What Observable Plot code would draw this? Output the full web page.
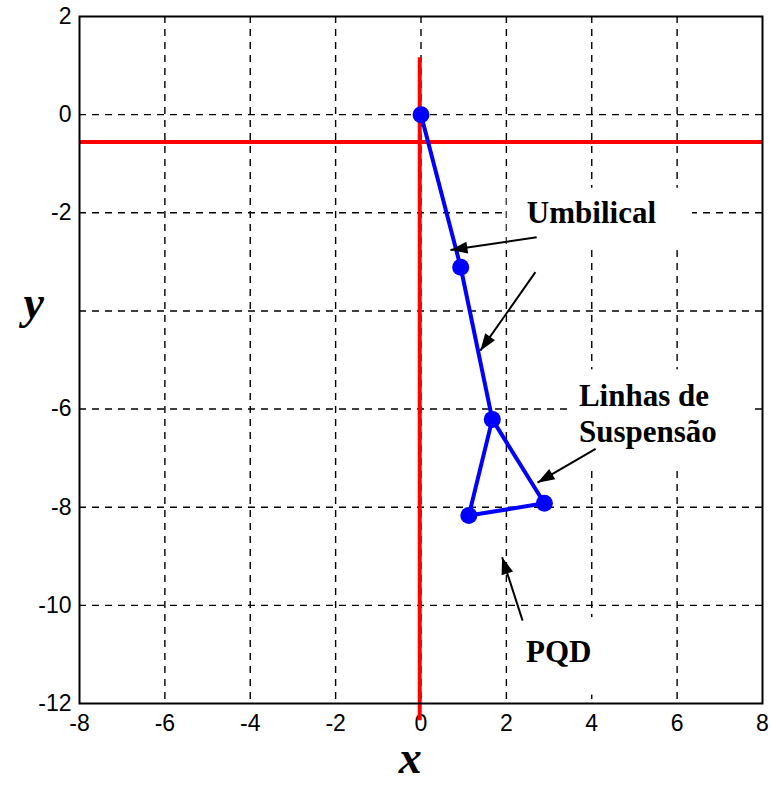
<!DOCTYPE html>
<html>
<head>
<meta charset="utf-8">
<script src="https://cdn.jsdelivr.net/npm/d3@7"></script>
<script src="https://cdn.jsdelivr.net/npm/@observablehq/plot@0.6"></script>
<style>
  html, body { margin: 0; padding: 0; background: #fff; }
  #chart { width: 771px; height: 801px; }
</style>
</head>
<body>
<div id="chart"></div>
<script>
// Axis ticks and labels (the -4 label is left blank beside the "y" title)
const xTicks = [-8, -6, -4, -2, 0, 2, 4, 6, 8];
const xTickLabels = ["-8", "-6", "-4", "-2", "0", "2", "4", "6", "8"];
const yTicks = [2, 0, -2, -4, -6, -8, -10, -12];
const yTickLabels = ["2", "0", "-2", "", "-6", "-8", "-10", "-12"];

// Interior dashed grid lines
const gridX = [-6, -4, -2, 0, 2, 4, 6];
const gridY = [0, -2, -4, -6, -8, -10];

// Reference axes (red)
const refLineX = -0.03;
const refLineXTop = 1.16;
const refLineXBottom = -12.35;
const refLineY = -0.56;

// Nodes of the umbilical + suspension lines + PQD
const nodeX = [0, 0.93, 1.67, 2.89, 1.12];
const nodeY = [0, -3.11, -6.21, -7.92, -8.17];
// Order in which the nodes are joined
const pathOrder = [0, 1, 2, 3, 4, 2];

// Annotation arrows (tail -> head)
const arrowX1 = [2.71, 2.68, 4.09, 2.38];
const arrowY1 = [-2.50, -3.21, -6.81, -10.31];
const arrowX2 = [0.69, 1.39, 2.73, 1.90];
const arrowY2 = [-2.76, -4.81, -7.50, -9.02];

// Annotation texts
const labelText = ["Umbilical", "Linhas de", "Suspensão", "PQD"];
const labelX = [2.48, 3.70, 3.70, 2.46];
const labelY = [-2.20, -5.93, -6.68, -11.16];

// White backgrounds behind the annotation texts
const boxX1 = [2.02, 3.52, 2.04];
const boxX2 = [6.36, 7.77, 4.21];
const boxY1 = [-1.5, -5.2, -10.25];
const boxY2 = [-2.77, -7.27, -11.83];

const pathPoints = pathOrder.map(i => ({x: nodeX[i], y: nodeY[i]}));
const nodes = nodeX.map((x, i) => ({x, y: nodeY[i]}));
const arrows = arrowX1.map((x1, i) => ({x1, y1: arrowY1[i], x2: arrowX2[i], y2: arrowY2[i]}));
const labels = labelText.map((t, i) => ({t, x: labelX[i], y: labelY[i]}));
const boxes = boxX1.map((x1, i) => ({x1, x2: boxX2[i], y1: boxY1[i], y2: boxY2[i]}));

const serif = "'Liberation Serif', 'Times New Roman', serif";

const svg = Plot.plot({
  width: 771,
  height: 801,
  marginLeft: 79,
  marginRight: 9,
  marginTop: 16,
  marginBottom: 98,
  style: {
    fontFamily: "'Liberation Sans', Arial, sans-serif",
    fontSize: "23px",
    color: "black",
    background: "white",
    overflow: "visible"
  },
  x: {
    domain: [-8, 8],
    ticks: xTicks,
    tickFormat: d => xTickLabels[xTicks.indexOf(d)],
    tickSize: 0,
    tickPadding: 11,
    label: null
  },
  y: {
    domain: [-12, 2],
    ticks: yTicks,
    tickFormat: d => yTickLabels[yTicks.indexOf(d)],
    tickSize: 0,
    tickPadding: 8,
    label: null
  },
  marks: [
    Plot.ruleX(gridX, {stroke: "black", strokeWidth: 1.4, strokeDasharray: "7,6"}),
    Plot.ruleY(gridY, {stroke: "black", strokeWidth: 1.4, strokeDasharray: "7,6"}),
    Plot.rect(boxes, {x1: "x1", x2: "x2", y1: "y1", y2: "y2", fill: "white"}),
    Plot.ruleY([refLineY], {x1: -8, x2: 8, stroke: "#ff0000", strokeWidth: 4}),
    Plot.ruleX([refLineX], {y1: refLineXTop, y2: refLineXBottom, stroke: "#ff0000", strokeWidth: 4}),
    Plot.line(pathPoints, {x: "x", y: "y", stroke: "#0000ff", strokeWidth: 4, strokeLinejoin: "round"}),
    Plot.dot(nodes, {x: "x", y: "y", r: 8.5, fill: "#0000ff"}),
    Plot.link(arrows, {x1: "x1", y1: "y1", x2: "x2", y2: "y2", stroke: "black", strokeWidth: 2, markerEnd: "arrow"}),
    Plot.text(labels, {
      x: "x", y: "y", text: "t",
      textAnchor: "start", lineAnchor: "bottom",
      fontFamily: serif, fontWeight: "bold", fontSize: 31, fill: "black"
    }),
    Plot.frame({stroke: "black", strokeWidth: 2}),
    Plot.text(["y"], {
      text: d => d, y: [-3.85], frameAnchor: "left", dx: -56,
      fontFamily: serif, fontStyle: "italic", fontWeight: "bold", fontSize: 46, fill: "black"
    }),
    Plot.text(["x"], {
      text: d => d, x: [-0.25], frameAnchor: "bottom", dy: 69, lineAnchor: "bottom",
      fontFamily: serif, fontStyle: "italic", fontWeight: "bold", fontSize: 46, fill: "black"
    })
  ]
});

// Solid, filled arrowheads for the annotation arrows
d3.select(svg).selectAll("marker").each(function () {
  const m = d3.select(this);
  m.attr("viewBox", "-18 -7 19 14")
    .attr("markerWidth", 19)
    .attr("markerHeight", 14)
    .attr("markerUnits", "userSpaceOnUse")
    .attr("fill", "black")
    .attr("stroke", "none");
  m.selectAll("*").remove();
  m.append("path").attr("d", "M-17,-6L0,0L-17,6Z");
});

document.getElementById("chart").appendChild(svg);
</script>
</body>
</html>
